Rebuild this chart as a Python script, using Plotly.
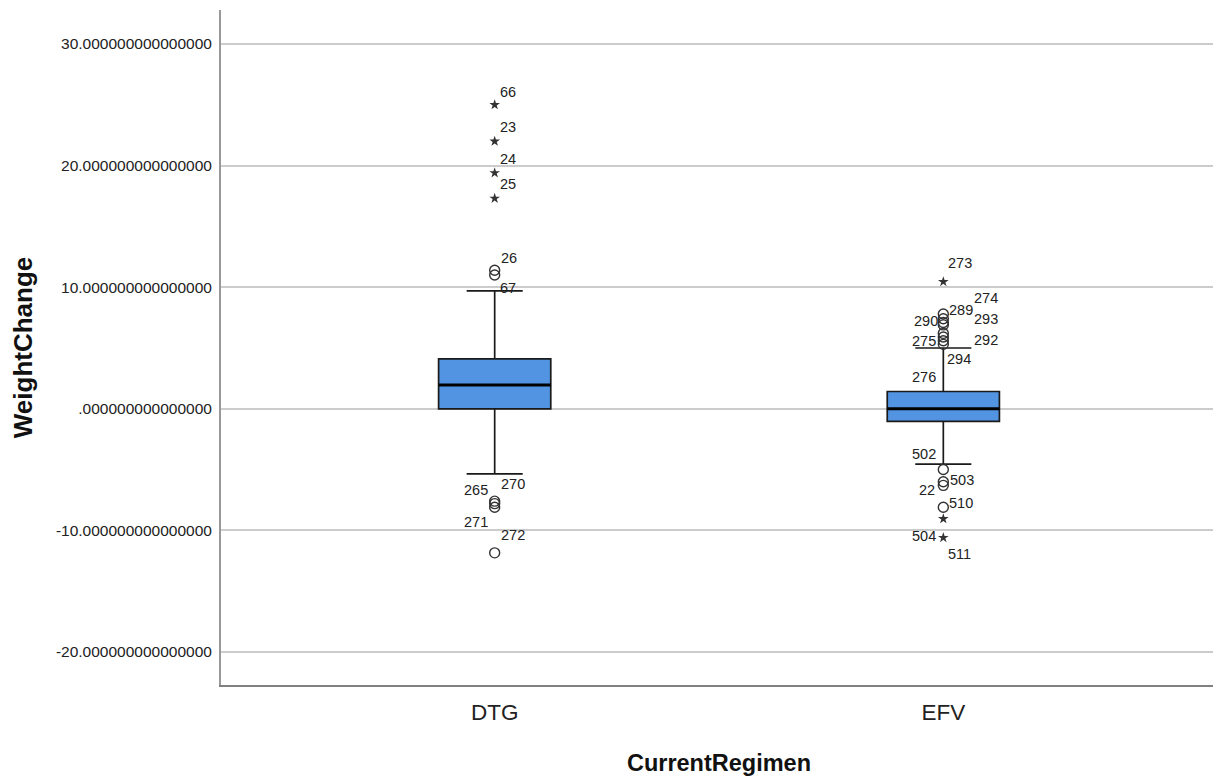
import plotly.graph_objects as go

# ---------------- data ----------------
categories = ["DTG", "EFV"]
q1 = [0.0, -1.04]
median = [1.95, 0.0]
q3 = [4.1, 1.42]
lower_whisker = [-5.35, -4.55]
upper_whisker = [9.7, 5.0]

dtg_outlier_values = [25.0, 22.0, 19.4, 17.3, 11.4, 11.0, -7.6, -7.8, -8.1, -11.85]
dtg_outlier_labels = ["66", "23", "24", "25", "26", "67", "270", "265", "271", "272"]
dtg_outlier_extreme = [True, True, True, True, False, False, False, False, False, False]

efv_outlier_values = [10.45, 7.8, 7.4, 7.1, 6.9, 6.2, 5.9, 5.6, 5.3,
                      -5.0, -6.0, -6.3, -8.1, -9.05, -10.6]
efv_outlier_labels = ["273", "274", "289", "290", "293", "275", "292", "294", "276",
                      "502", "503", "22", "510", "504", "511"]
efv_outlier_extreme = [True, False, False, False, False, False, False, False, False,
                       False, False, False, False, True, True]

y_tick_values = [-20, -10, 0, 10, 20, 30]

# label offsets in pixels (style only)
dtg_label_shift = [(13, 13), (13, 14), (13, 14), (13, 14), (14, 12), (13, -13),
                   (18, 17), (-19, 14), (-19, -15), (18, 18)]
efv_label_shift = [(17, 19), (43, 16), (18, 9), (-17, 1), (43, 6), (-19, -8),
                   (43, -3), (16, -18), (-19, -33),
                   (-19, 16), (19, 2), (-16, -5), (18, 4), (-19, -17), (16, -16)]

BOX_WIDTH = 0.25
FILL = "#5294E2"
FONT = "Liberation Sans, Arial, sans-serif"


def fmt_tick(v):
    s = f"{v:.15f}"
    if v == 0:
        s = s[1:]
    return s


fig = go.Figure()

for i, cat in enumerate(categories):
    fig.add_trace(go.Box(
        x=[i], q1=[q1[i]], median=[median[i]], q3=[q3[i]],
        lowerfence=[lower_whisker[i]], upperfence=[upper_whisker[i]],
        width=BOX_WIDTH, whiskerwidth=0.5, boxpoints=False,
        fillcolor=FILL, line=dict(color="#1a1a1a", width=1.7),
        showlegend=False, hoverinfo="skip",
    ))
    fig.add_trace(go.Scatter(
        x=[i - BOX_WIDTH / 2, i + BOX_WIDTH / 2], y=[median[i], median[i]],
        mode="lines", line=dict(color="#000000", width=3),
        showlegend=False, hoverinfo="skip",
    ))

outlier_sets = [
    (0, dtg_outlier_values, dtg_outlier_labels, dtg_outlier_extreme, dtg_label_shift),
    (1, efv_outlier_values, efv_outlier_labels, efv_outlier_extreme, efv_label_shift),
]

for idx, vals, labs, ext, shifts in outlier_sets:
    circ = [v for v, e in zip(vals, ext) if not e]
    star = [v for v, e in zip(vals, ext) if e]
    fig.add_trace(go.Scatter(
        x=[idx] * len(circ), y=circ, mode="markers",
        marker=dict(symbol="circle-open", size=10, color="#333333", line=dict(width=1.4)),
        showlegend=False, hoverinfo="skip",
    ))
    fig.add_trace(go.Scatter(
        x=[idx] * len(star), y=star, mode="markers",
        marker=dict(symbol="star", size=8, color="#333333", line=dict(width=0)),
        showlegend=False, hoverinfo="skip",
    ))
    for v, lab, (dx, dy) in zip(vals, labs, shifts):
        fig.add_annotation(
            x=idx, y=v, text=lab, showarrow=False,
            xshift=dx, yshift=dy, xanchor="center", yanchor="middle",
            font=dict(family=FONT, size=14.5, color="#222222"),
        )

fig.update_layout(
    width=1221, height=778,
    margin=dict(l=213, r=12, t=2, b=101),
    paper_bgcolor="white", plot_bgcolor="white",
    font=dict(family=FONT, color="#222222"),
)

fig.update_xaxes(
    range=[-0.61, 1.61],
    tickvals=list(range(len(categories))), ticktext=categories,
    tickfont=dict(size=22.5, color="#222222"),
    showgrid=False, zeroline=False,
    showline=True, linecolor="#808080", linewidth=2,
    ticks="", ticklabelstandoff=6,
    title=dict(text="<b>CurrentRegimen</b>", font=dict(size=23.5, color="#111111"), standoff=31),
)

fig.update_yaxes(
    range=[-22.72, 32.8],
    tickvals=y_tick_values, ticktext=[fmt_tick(v) for v in y_tick_values],
    tickfont=dict(size=15.5, color="#222222"),
    showgrid=True, gridcolor="#CCCCCC", gridwidth=2,
    zeroline=False,
    showline=True, linecolor="#999999", linewidth=2,
    ticks="", ticklabelstandoff=4,
    title=dict(text="<b>WeightChange</b>", font=dict(size=26, color="#111111"), standoff=17),
)

fig.write_html("out.html")
